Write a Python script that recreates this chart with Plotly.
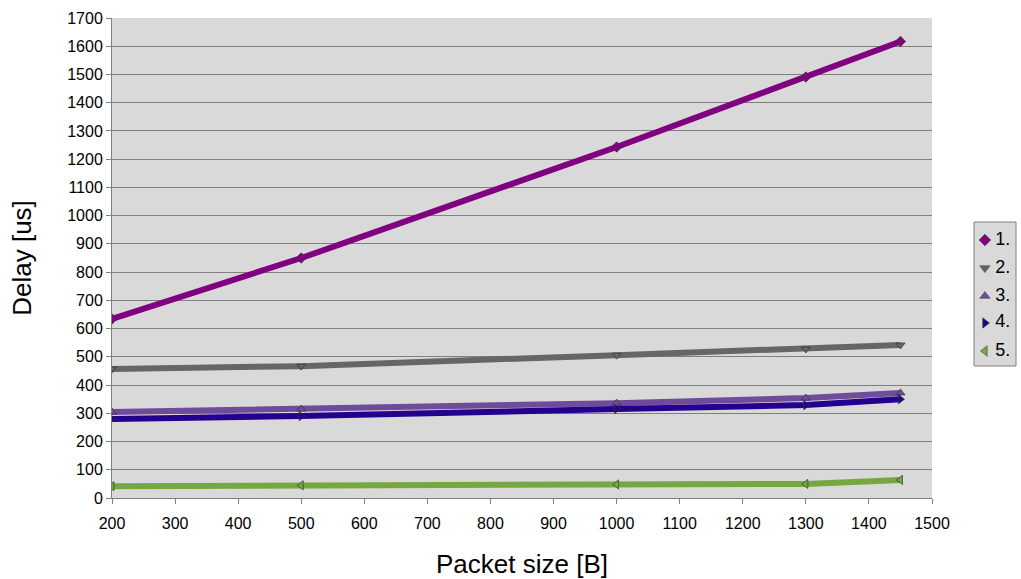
import plotly.graph_objects as go

packet_size = [200, 500, 1000, 1300, 1450]
s1 = [634, 850, 1243, 1491, 1617]
s2 = [457, 467, 506, 528, 542]
s3 = [305, 315, 336, 354, 372]
s4 = [280, 290, 315, 329, 350]
s5 = [42, 45, 48, 50, 64]

names = ["1.", "2.", "3.", "4.", "5."]
series = [s1, s2, s3, s4, s5]
colors = ["#800080", "#666666", "#6f4c9b", "#24008f", "#77a840"]
symbols = ["diamond", "triangle-down", "triangle-up", "triangle-right", "triangle-left"]

# layout geometry (pixels)
W, H = 1021, 579
L, T, B = 112, 18, 81
plot_right = 932
PW = W - L          # paper width with r=0
PH = H - T - B
leg_x0, leg_x1, leg_y0, leg_y1 = 974, 1016, 222, 366

fig = go.Figure()
for n, s, c, sym in zip(names, series, colors, symbols):
    fig.add_trace(go.Scatter(
        x=packet_size, y=s, name=n, mode="lines+markers", showlegend=False,
        line=dict(color=c, width=6),
        marker=dict(symbol=sym, size=8, color=c, line=dict(color="#333333", width=0.7)),
    ))

# custom legend drawn on a helper axis pair
leg_y = [0.875, 0.68, 0.486, 0.299, 0.104]
for n, c, sym, yy in zip(names, colors, symbols, leg_y):
    fig.add_trace(go.Scatter(
        x=[0.26], y=[yy], text=["\u2009" + n], mode="markers+text", textposition="middle right",
        textfont=dict(size=18, color="black"), showlegend=False, hoverinfo="skip",
        marker=dict(symbol=sym, size=9, color=c, line=dict(color="#333333", width=0.5)),
        xaxis="x2", yaxis="y2",
    ))

fig.add_shape(type="rect", xref="paper", yref="paper",
              x0=(leg_x0 - L) / PW, x1=(leg_x1 - L) / PW,
              y0=(T + PH - leg_y1) / PH, y1=(T + PH - leg_y0) / PH,
              fillcolor="#d9d9d9", line=dict(color="#808080", width=1), layer="below")

fig.update_layout(
    width=W, height=H,
    margin=dict(l=L, r=0, t=T, b=B, autoexpand=False),
    paper_bgcolor="white", plot_bgcolor="#d9d9d9",
    font=dict(family="Liberation Sans, Arial, sans-serif", size=16, color="black"),
    showlegend=False,
    xaxis=dict(domain=[0, (plot_right - L) / PW],
               range=[200, 1500], dtick=100, tick0=200,
               showgrid=False, zeroline=False,
               showline=True, linecolor="#808080", linewidth=1,
               ticks="outside", ticklen=5, tickcolor="#808080",
               ticklabelstandoff=6,
               title=dict(text="Packet size [B]", font=dict(size=26), standoff=24)),
    yaxis=dict(range=[0, 1700], dtick=100,
               showgrid=True, gridcolor="#808080", gridwidth=1, zeroline=False,
               showline=True, linecolor="#808080", linewidth=1,
               ticks="outside", ticklen=5, tickcolor="#808080",
               title=dict(text="Delay [us]", font=dict(size=26), standoff=28)),
    xaxis2=dict(domain=[(leg_x0 - L) / PW, (leg_x1 - L) / PW], range=[0, 1],
                visible=False, anchor="y2", fixedrange=True),
    yaxis2=dict(domain=[(T + PH - leg_y1) / PH, (T + PH - leg_y0) / PH], range=[0, 1],
                visible=False, anchor="x2", fixedrange=True),
)

fig.write_html("out.html")
